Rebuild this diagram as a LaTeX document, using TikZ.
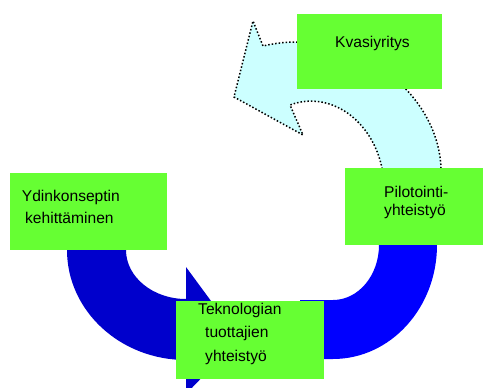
\documentclass[tikz,border=0pt]{standalone}
\usepackage{fontspec}
\setmainfont{Liberation Sans}
\definecolor{boxgreen}{HTML}{66FF33}
\definecolor{darkband}{HTML}{0000CC}
\definecolor{brightband}{HTML}{0000FF}
\definecolor{paleflow}{HTML}{CCFFFF}
\begin{document}
\begin{tikzpicture}[x=1pt,y=-1pt,
  stagebox/.style={fill=boxgreen, draw=none, inner sep=0pt, anchor=north west},
  boxtext/.style={anchor=base west, inner sep=0pt, font=\fontsize{15.6}{18}\selectfont},
  dotborder/.style={draw=black, line width=1.5pt, dash pattern=on 1.5pt off 2pt}]
\useasboundingbox (0,0) rectangle (483,388);
\clip (0,0) rectangle (483,388);
\fill[white] (0,0) rectangle (483,388);

% dark blue curved arrow from the core concept down to the technology box
\fill[darkband]
  (67,235) -- (67,250)
  .. controls (67,310.8) and (120.3,360) .. (186,360)
  -- (186,394) -- (239,339) -- (186,267) -- (186,299)
  .. controls (152.9,299) and (126,277) .. (126,250)
  -- (126,235) -- cycle;

% bright blue band from the technology box up to the piloting box
\fill[brightband]
  (300,300) -- (333,300)
  .. controls (358.4,300) and (379,275.4) .. (379,245)
  -- (379,200) -- (437,200) -- (437,245)
  .. controls (437,308) and (390.4,359) .. (333,359)
  -- (300,359) -- cycle;

% pale dotted arrow from the piloting box towards the quasi-firm
\filldraw[fill=paleflow, dotborder]
  (382,190) -- (382,168)
  .. controls (372,120) and (330,90) .. (290,105)
  -- (303,135) -- (234,97) -- (253,21) -- (263,46)
  .. controls (350,25) and (438,90) .. (441,168)
  -- (441,190);

% stage boxes
\node[stagebox, minimum width=145pt, minimum height=75pt] (kvasi) at (297,14) {};
\node[stagebox, minimum width=140pt, minimum height=77pt] (pilot) at (345,168) {};
\node[stagebox, minimum width=157pt, minimum height=77pt] (ydin) at (10,173) {};
\node[stagebox, minimum width=148pt, minimum height=78pt] (tekno) at (176,301) {};

% box texts
\node[boxtext] (kvasiA) at (335,47.3) {Kvasiyritys};
\node[boxtext] (pilotA) at (384,197.3) {Pilotointi-};
\node[boxtext] (pilotB) at (384,215.7) {yhteistyö};
\node[boxtext] (ydinA) at (21.7,201) {Ydinkonseptin};
\node[boxtext] (ydinB) at (25,223.3) {kehittäminen};
\node[boxtext] (teknoA) at (198,314) {Teknologian};
\node[boxtext] (teknoB) at (205,337.7) {tuottajien};
\node[boxtext] (teknoC) at (205,361) {yhteistyö};
\end{tikzpicture}
\end{document}
